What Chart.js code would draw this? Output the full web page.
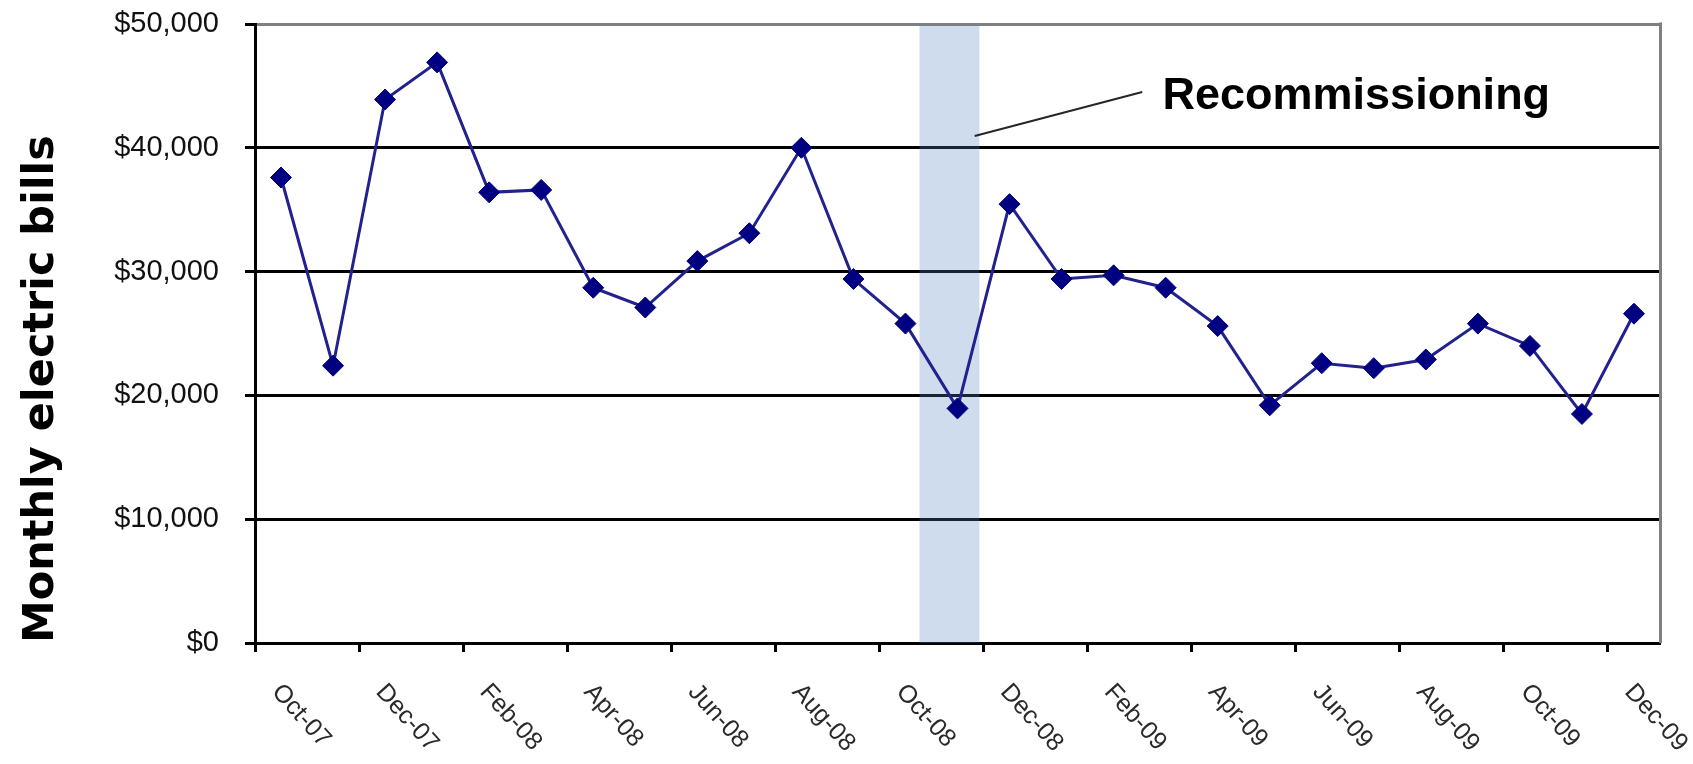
<!DOCTYPE html>
<html>
<head>
<meta charset="utf-8">
<script src="https://cdn.jsdelivr.net/npm/chart.js@4.4.0/dist/chart.umd.min.js"></script>
<style>
  html, body { margin: 0; padding: 0; background: #ffffff; }
  #wrap { width: 1693px; height: 764px; position: relative; }
</style>
</head>
<body>
<div id="wrap"><canvas id="bills"></canvas></div>
<script>
// Billing months, October 2007 through December 2009
const months = [
  'Oct-07', 'Nov-07', 'Dec-07', 'Jan-08', 'Feb-08', 'Mar-08', 'Apr-08', 'May-08', 'Jun-08',
  'Jul-08', 'Aug-08', 'Sep-08', 'Oct-08', 'Nov-08', 'Dec-08', 'Jan-09', 'Feb-09', 'Mar-09',
  'Apr-09', 'May-09', 'Jun-09', 'Jul-09', 'Aug-09', 'Sep-09', 'Oct-09', 'Nov-09', 'Dec-09'
];

// Monthly electric bill, US dollars
const bills = [
  37600, 22400, 43900, 46900, 36400, 36600, 28700, 27100, 30850,
  33100, 40000, 29400, 25800, 18950, 35450, 29400, 29700, 28700,
  25600, 19200, 22600, 22200, 22900, 25800, 24000, 18500, 26600
];

// Value axis range
const yMin = 0;
const yMax = 50000;
const yStep = 10000;

// Recommissioning period, in month-index units along the time axis
const recommissioningPeriod = { from: 12.27, to: 13.42 };

// Callout label and its leader line, in (month index, dollars)
const calloutText = 'Recommissioning';
const calloutAnchor = [16.94, 43150];
const calloutLineFrom = [13.33, 40950];
const calloutLineTo = [16.55, 44500];

const axisTitle = 'Monthly electric bills';

const money = v => '$' + Number(v).toLocaleString('en-US');

const annotations = {
  id: 'annotations',
  beforeDatasetsDraw(chart) {
    const { ctx, chartArea: a, scales: { x } } = chart;
    const x0 = x.getPixelForValue(recommissioningPeriod.from);
    const x1 = x.getPixelForValue(recommissioningPeriod.to);
    ctx.save();
    ctx.fillStyle = 'rgba(79, 129, 189, 0.28)';
    ctx.fillRect(x0, a.top + 1, x1 - x0, a.bottom - a.top - 1);
    ctx.restore();
  },
  afterDraw(chart) {
    const { ctx, chartArea: a, scales: { x, y } } = chart;
    ctx.save();

    // right edge of the plot frame
    ctx.strokeStyle = '#808080';
    ctx.lineWidth = 3;
    ctx.beginPath();
    ctx.moveTo(a.right + 0.5, a.top - 1.5);
    ctx.lineTo(a.right + 0.5, a.bottom);
    ctx.stroke();

    // slanted month labels, every second month
    ctx.font = '25px "Liberation Sans", Arial, sans-serif';
    ctx.fillStyle = '#2a2a2a';
    ctx.textAlign = 'left';
    ctx.textBaseline = 'middle';
    months.forEach((m, i) => {
      if (i % 2) return;
      ctx.save();
      ctx.translate(x.getPixelForValue(i) - 5, x.top + 45);
      ctx.rotate(48 * Math.PI / 180);
      ctx.fillText(m, 0, 0);
      ctx.restore();
    });

    // callout leader line and label
    ctx.strokeStyle = '#262626';
    ctx.lineWidth = 2;
    ctx.beginPath();
    ctx.moveTo(x.getPixelForValue(calloutLineFrom[0]), y.getPixelForValue(calloutLineFrom[1]));
    ctx.lineTo(x.getPixelForValue(calloutLineTo[0]), y.getPixelForValue(calloutLineTo[1]));
    ctx.stroke();

    ctx.font = 'bold 45px "Liberation Sans", Arial, sans-serif';
    ctx.fillStyle = '#000000';
    ctx.textAlign = 'left';
    ctx.textBaseline = 'alphabetic';
    ctx.fillText(calloutText, x.getPixelForValue(calloutAnchor[0]), y.getPixelForValue(calloutAnchor[1]));

    ctx.restore();
  }
};

new Chart(document.getElementById('bills'), {
  type: 'line',
  data: {
    labels: months,
    datasets: [{
      data: bills,
      borderColor: '#22228f',
      borderWidth: 3,
      tension: 0,
      pointStyle: 'rectRot',
      pointRadius: 10.5,
      pointBackgroundColor: '#000080',
      pointBorderColor: '#000080',
      pointBorderWidth: 1
    }]
  },
  options: {
    responsive: true,
    maintainAspectRatio: false,
    animation: false,
    events: [],
    layout: { padding: { top: 24, right: 33, bottom: 0, left: 0 } },
    plugins: {
      legend: { display: false },
      tooltip: { enabled: false }
    },
    scales: {
      x: {
        type: 'category',
        offset: true,
        afterFit(scale) { scale.height = 121; },
        grid: {
          offset: true,
          drawOnChartArea: false,
          drawTicks: true,
          tickLength: 9,
          tickWidth: 3,
          tickColor: c => (c.index % 2 === 0 ? '#000000' : 'rgba(0,0,0,0)')
        },
        border: { display: true, color: '#000000', width: 3 },
        ticks: { display: false, autoSkip: false }
      },
      y: {
        min: yMin,
        max: yMax,
        afterFit(scale) {
          scale.width = 255;
          scale.paddingTop = 0;
          scale.paddingBottom = 0;
        },
        grid: {
          color: c => (c.tick && c.tick.value === yMax ? '#808080' : '#000000'),
          lineWidth: 3,
          drawTicks: true,
          tickLength: 10,
          tickWidth: 3,
          tickColor: '#000000'
        },
        border: { display: true, color: '#000000', width: 3 },
        ticks: {
          stepSize: yStep,
          padding: 26,
          color: '#111111',
          font: { family: '"Liberation Sans", Arial, sans-serif', size: 29 },
          callback: v => money(v)
        },
        title: {
          display: true,
          text: axisTitle,
          align: 'start',
          color: '#000000',
          padding: { top: 16, bottom: 0 },
          font: { family: '"DejaVu Sans", sans-serif', size: 43, weight: 'bold' }
        }
      }
    }
  },
  plugins: [annotations]
});
</script>
</body>
</html>
